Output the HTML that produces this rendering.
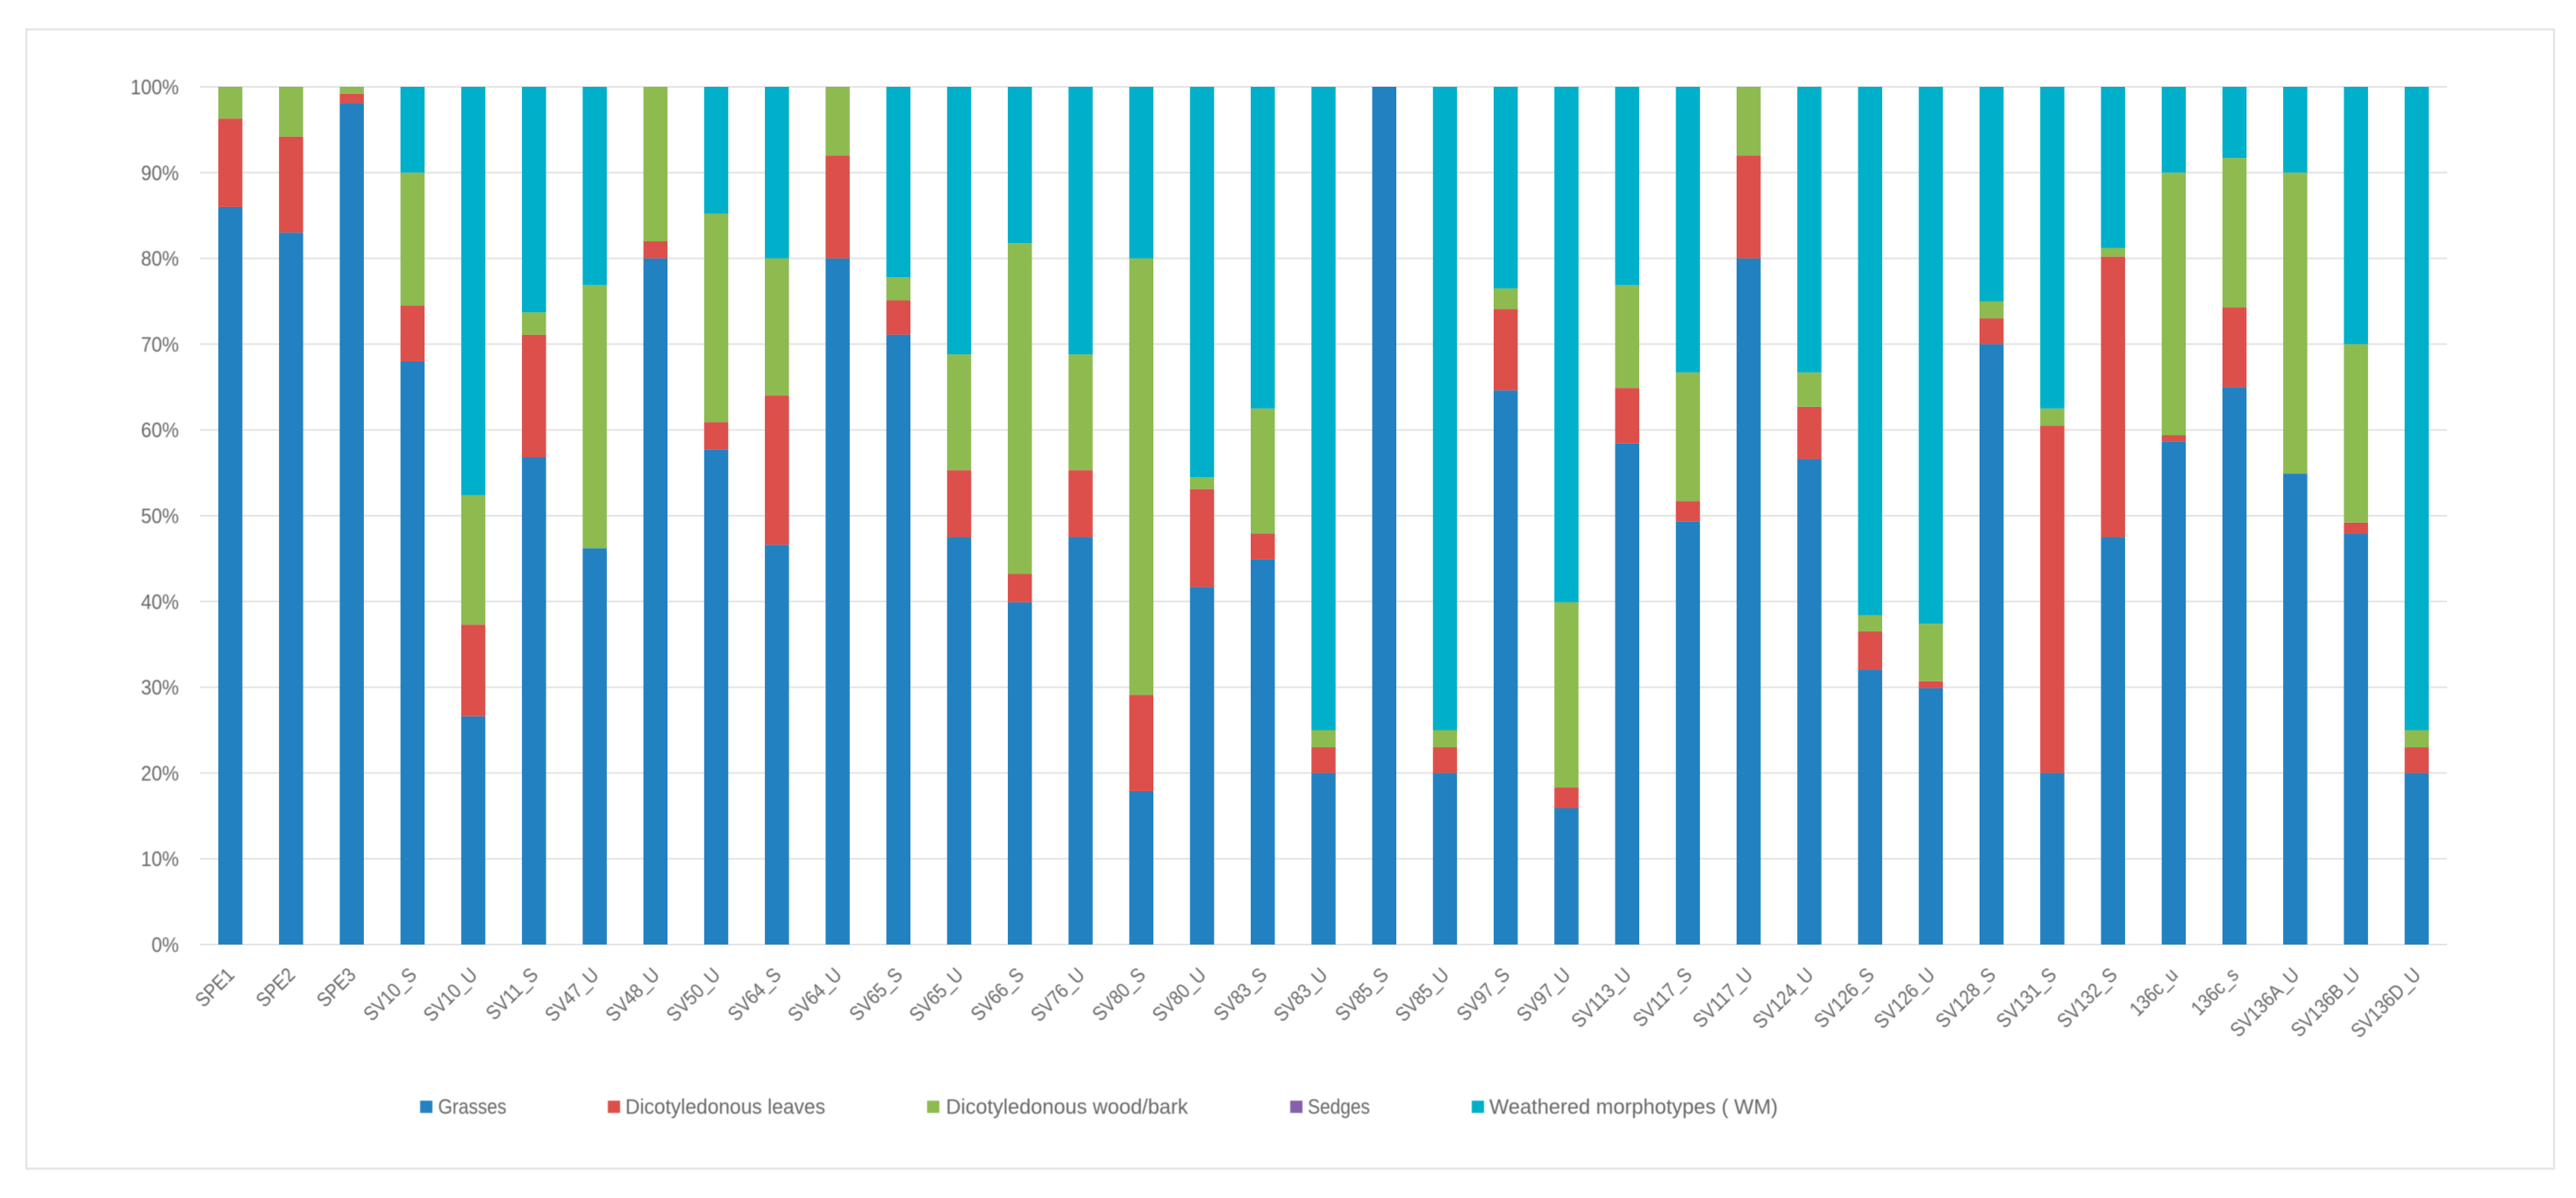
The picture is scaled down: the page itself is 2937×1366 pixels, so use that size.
<!DOCTYPE html>
<html lang="en">
<head>
<meta charset="utf-8">
<title>Phytolith morphotype composition by sample</title>
<style>
  html, body { margin: 0; padding: 0; background: #ffffff; }
  #stage { position: relative; width: 2937px; height: 1366px; overflow: hidden; background: #ffffff; }
  #chart-svg { position: absolute; left: 0; top: 0; display: block; }
  text { font-family: "Liberation Sans", sans-serif; fill: #666666; }
  .soft { filter: blur(0.55px); }
</style>
</head>
<body>
<div id="stage">
<svg id="chart-svg" width="2937" height="1366" viewBox="0 0 2937 1366" xmlns="http://www.w3.org/2000/svg">
  <rect x="30" y="33.5" width="2882" height="1299" fill="#ffffff" stroke="#e4e4e4" stroke-width="2.4"></rect>
  <g id="grid-layer"></g>
  <g id="bar-layer"></g>
  <g id="y-layer" class="soft"></g>
  <g id="x-layer" class="soft"></g>
  <g id="legend-layer" class="soft"></g>
</svg>
</div>
<script>
const categories = ["SPE1","SPE2","SPE3","SV10_S","SV10_U","SV11_S","SV47_U","SV48_U","SV50_U","SV64_S","SV64_U","SV65_S","SV65_U","SV66_S","SV76_U","SV80_S","SV80_U","SV83_S","SV83_U","SV85_S","SV85_U","SV97_S","SV97_U","SV113_U","SV117_S","SV117_U","SV124_U","SV126_S","SV126_U","SV128_S","SV131_S","SV132_S","136c_u","136c_s","SV136A_U","SV136B_U","SV136D_U"];
const grasses = [86,83,98.1,68,26.6,56.8,46.2,80,57.7,46.6,80,71.1,47.5,39.9,47.5,17.9,41.7,44.9,20,100,20,64.6,15.9,58.4,49.3,80,56.6,32,29.9,70,20,47.5,58.6,65,54.9,47.9,20];
const dicotLeaves = [10.3,11.2,1.1,6.5,10.7,14.3,0,2,3.2,17.4,12,4,7.8,3.3,7.8,11.2,11.4,3,3,0,3,9.5,2.4,6.5,2.4,12,6.1,4.5,0.8,3,40.5,32.7,0.8,9.3,0,1.3,3];
const dicotWood = [3.7,5.8,0.8,15.5,15.1,2.6,30.7,18,24.3,16,8,2.7,13.5,38.6,13.5,50.9,1.4,14.6,2,0,2,2.4,21.6,12,15,8,4,1.9,6.7,2,2,1,30.6,17.4,35.1,20.8,2];
const sedges = [0,0,0,0,0,0,0,0,0,0,0,0,0,0,0,0,0,0,0,0,0,0,0,0,0,0,0,0,0,0,0,0,0,0,0,0,0];
const weathered = [0,0,0,10,47.6,26.3,23.1,0,14.8,20,0,22.2,31.2,18.2,31.2,20,45.5,37.5,75,0,75,23.5,60.1,23.1,33.3,0,33.3,61.6,62.6,25,37.5,18.8,10,8.3,10,30,75];
const yTicks = [0,10,20,30,40,50,60,70,80,90,100];
const seriesNames = ["Grasses","Dicotyledonous leaves","Dicotyledonous wood/bark","Sedges","Weathered morphotypes ( WM)"];

const NS = "http://www.w3.org/2000/svg";
const seriesValues = [grasses, dicotLeaves, dicotWood, sedges, weathered];
const seriesColors = ["#2281c1","#dd4f4b","#8dbb4f","#8560ac","#00afca"];
const plotLeft = 228, plotRight = 2790, plotTop = 99, plotBottom = 1077;
const step = (plotRight - plotLeft) / categories.length;
const barWidth = step * 0.397;

function xCenter(i) { return plotLeft + (i + 0.5) * step; }
function yScale(pct) { return plotBottom - (pct / 100) * (plotBottom - plotTop); }
function slug(s) { return s.toLowerCase().replace(/[^a-z0-9]+/g, "-").replace(/^-|-$/g, ""); }

const gridLayer = document.getElementById("grid-layer");
const yLayer = document.getElementById("y-layer");
yTicks.forEach(function (t) {
  const line = document.createElementNS(NS, "line");
  line.setAttribute("x1", plotLeft);
  line.setAttribute("x2", plotRight);
  line.setAttribute("y1", yScale(t));
  line.setAttribute("y2", yScale(t));
  line.setAttribute("stroke", "#e4e4e4");
  line.setAttribute("stroke-width", "2");
  
  
  gridLayer.appendChild(line);

  const label = document.createElementNS(NS, "text");
  label.setAttribute("text-anchor", "end");
  label.setAttribute("font-size", "24");
  label.setAttribute("transform", "translate(204 " + (yScale(t) + 8.5) + ") scale(0.9 1)");
  label.textContent = t + "%";
  
  
  yLayer.appendChild(label);
});

const barLayer = document.getElementById("bar-layer");
const xLayer = document.getElementById("x-layer");
categories.forEach(function (cat, i) {
  let total = 0;
  seriesValues.forEach(function (s) { total += s[i]; });
  let acc = 0;
  seriesValues.forEach(function (s, k) {
    const v = s[i];
    if (v > 0) {
      const y0 = yScale(acc / total * 100);
      const y1 = yScale((acc + v) / total * 100);
      const r = document.createElementNS(NS, "rect");
      r.setAttribute("x", xCenter(i) - barWidth / 2);
      r.setAttribute("width", barWidth);
      r.setAttribute("y", y1);
      r.setAttribute("height", y0 - y1);
      r.setAttribute("fill", seriesColors[k]);
      
      
      barLayer.appendChild(r);
    }
    acc += v;
  });

  const tx = xCenter(i) + 6, ty = 1113;
  const label = document.createElementNS(NS, "text");
  label.setAttribute("text-anchor", "end");
  label.setAttribute("font-size", "23");
  label.setAttribute("transform", "translate(" + tx + " " + ty + ") rotate(-45) scale(0.88 1)");
  label.textContent = cat;
  
  
  xLayer.appendChild(label);
});

const legendSwatchX = [479, 693, 1057, 1471, 1678];
const legendTextX = [499.5, 713, 1078.5, 1491, 1698];
const legendTextW = [78, 228, 276, 71, 329];
const legendLayer = document.getElementById("legend-layer");
seriesNames.forEach(function (name, k) {
  const sw = document.createElementNS(NS, "rect");
  sw.setAttribute("x", legendSwatchX[k]);
  sw.setAttribute("y", 1255);
  sw.setAttribute("width", 14);
  sw.setAttribute("height", 14);
  sw.setAttribute("fill", seriesColors[k]);
  
  
  legendLayer.appendChild(sw);

  const t = document.createElementNS(NS, "text");
  t.setAttribute("x", legendTextX[k]);
  t.setAttribute("y", 1270);
  t.setAttribute("font-size", "24");
  t.setAttribute("textLength", legendTextW[k]);
  t.setAttribute("lengthAdjust", "spacingAndGlyphs");
  t.textContent = name;
  
  
  legendLayer.appendChild(t);
});
</script>
</body>
</html>
